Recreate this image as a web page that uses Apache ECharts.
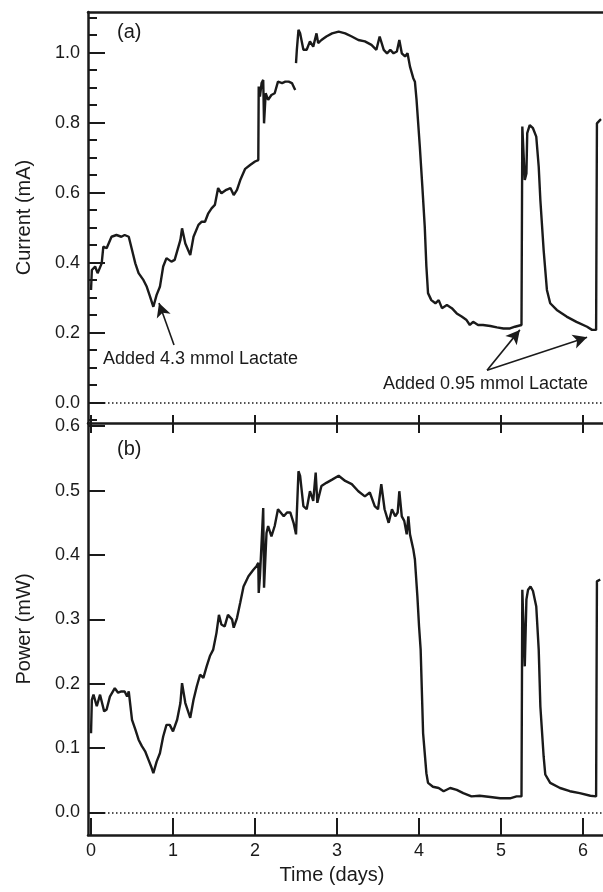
<!DOCTYPE html>
<html>
<head>
<meta charset="utf-8">
<script src="https://cdn.jsdelivr.net/npm/echarts@6/dist/echarts.min.js"></script>
<style>
html,body{margin:0;padding:0;background:#fff;}
#chart{width:603px;height:892px;}
</style>
</head>
<body>
<div id="chart"></div>
<script>
// (a) 电流
var daysA = [0.00,0.01,0.05,0.08,0.13,0.15,0.19,0.25,0.31,0.37,0.41,0.46,0.50,0.54,0.58,0.64,0.68,0.72,0.76,0.80,0.84,0.88,0.92,0.98,1.02,1.09,1.11,1.15,1.21,1.25,1.31,1.35,1.39,1.43,1.47,1.51,1.55,1.59,1.65,1.70,1.74,1.78,1.82,1.88,1.94,2.00,2.04,2.045,2.06,2.08,2.10,2.11,2.13,2.16,2.20,2.24,2.28,2.33,2.37,2.41,2.45,2.49,2.495,2.50,2.51,2.53,2.55,2.59,2.63,2.67,2.71,2.75,2.77,2.81,2.87,2.94,3.02,3.10,3.18,3.26,3.34,3.42,3.48,3.52,3.57,3.61,3.65,3.69,3.73,3.76,3.79,3.83,3.86,3.89,3.93,3.95,3.97,4.01,4.04,4.07,4.09,4.11,4.15,4.20,4.24,4.28,4.34,4.40,4.46,4.52,4.58,4.62,4.66,4.72,4.78,4.87,4.95,5.03,5.11,5.17,5.25,5.26,5.29,5.31,5.32,5.35,5.39,5.43,5.46,5.48,5.52,5.56,5.60,5.68,5.80,5.92,6.05,6.11,6.16,6.17,6.21,6.22];
var currentMA = [0.322,0.379,0.389,0.370,0.398,0.446,0.441,0.474,0.479,0.474,0.479,0.474,0.436,0.398,0.370,0.350,0.331,0.303,0.274,0.308,0.331,0.389,0.413,0.403,0.408,0.465,0.498,0.455,0.422,0.474,0.508,0.517,0.517,0.541,0.555,0.565,0.613,0.598,0.608,0.613,0.593,0.608,0.636,0.668,0.679,0.689,0.693,0.903,0.874,0.913,0.922,0.798,0.884,0.865,0.879,0.884,0.917,0.913,0.917,0.917,0.913,0.893,null,0.970,1.008,1.065,1.055,1.008,1.008,1.032,1.017,1.055,1.027,1.036,1.046,1.055,1.060,1.055,1.046,1.036,1.032,1.022,1.008,1.046,1.008,0.998,1.008,0.998,1.003,1.036,0.998,0.989,0.998,0.960,0.927,0.917,0.865,0.731,0.620,0.503,0.389,0.313,0.293,0.284,0.293,0.270,0.279,0.270,0.255,0.246,0.236,0.222,0.231,0.222,0.222,0.219,0.215,0.212,0.212,0.217,0.222,0.789,0.636,0.655,0.770,0.793,0.784,0.760,0.674,0.579,0.436,0.322,0.284,0.265,0.246,0.231,0.217,0.208,0.208,0.798,0.808,0.810];
// (b) 功率
var daysB = [0.00,0.01,0.03,0.07,0.11,0.13,0.16,0.19,0.23,0.29,0.33,0.37,0.41,0.44,0.46,0.50,0.54,0.58,0.62,0.66,0.70,0.74,0.76,0.80,0.84,0.88,0.92,0.96,1.00,1.05,1.09,1.11,1.15,1.21,1.25,1.29,1.33,1.37,1.41,1.45,1.49,1.53,1.56,1.59,1.63,1.67,1.72,1.74,1.78,1.82,1.86,1.92,1.98,2.02,2.04,2.045,2.06,2.08,2.10,2.11,2.14,2.16,2.20,2.24,2.28,2.35,2.39,2.43,2.47,2.50,2.53,2.55,2.59,2.63,2.67,2.71,2.74,2.76,2.81,2.87,2.94,3.02,3.10,3.18,3.26,3.34,3.40,3.46,3.50,3.54,3.58,3.63,3.67,3.71,3.74,3.76,3.79,3.82,3.85,3.87,3.89,3.93,3.95,3.98,4.00,4.02,4.05,4.09,4.11,4.17,4.24,4.30,4.38,4.46,4.54,4.64,4.74,4.87,4.99,5.11,5.19,5.25,5.26,5.29,5.31,5.33,5.36,5.39,5.43,5.46,5.48,5.52,5.54,5.60,5.72,5.84,5.96,6.09,6.16,6.17,6.21];
var powerMW = [0.123,0.175,0.183,0.165,0.183,0.186,0.157,0.160,0.180,0.193,0.186,0.188,0.188,0.180,0.188,0.144,0.129,0.113,0.103,0.095,0.082,0.069,0.061,0.079,0.092,0.118,0.136,0.136,0.126,0.144,0.170,0.201,0.170,0.147,0.175,0.196,0.214,0.209,0.227,0.243,0.253,0.279,0.307,0.292,0.289,0.307,0.300,0.287,0.302,0.326,0.351,0.367,0.377,0.383,0.388,0.341,0.367,0.419,0.473,0.349,0.434,0.445,0.429,0.445,0.471,0.460,0.466,0.466,0.450,0.432,0.530,0.523,0.476,0.471,0.499,0.484,0.528,0.481,0.507,0.512,0.517,0.523,0.515,0.510,0.499,0.491,0.497,0.476,0.471,0.510,0.471,0.450,0.471,0.460,0.466,0.499,0.460,0.453,0.432,0.460,0.432,0.409,0.393,0.336,0.290,0.253,0.123,0.061,0.046,0.040,0.038,0.033,0.038,0.035,0.030,0.025,0.026,0.024,0.022,0.022,0.025,0.025,0.346,0.227,0.331,0.346,0.351,0.344,0.320,0.253,0.165,0.087,0.059,0.046,0.038,0.033,0.030,0.026,0.025,0.359,0.362];

// 刻度
var xTicks = [0,1,2,3,4,5,6];
var yTicksA = [0,0.2,0.4,0.6,0.8,1.0];
var yMinorA = [-0.05,0.05,0.1,0.15,0.25,0.3,0.35,0.45,0.5,0.55,0.65,0.7,0.75,0.85,0.9,0.95,1.05,1.1];
var yTicksB = [0,0.1,0.2,0.3,0.4,0.5,0.6];

// 箭头 [起点, 终点]
var arrowsA = [
	[[1.012,0.165],[0.829,0.285]],
	[[4.83,0.093],[5.23,0.208]],
	[[4.83,0.093],[6.05,0.187]]
];

function pairs(xs, ys){
	var out = [];
	for(var i=0;i<xs.length;i++){ out.push([xs[i], ys[i]]); }
	return out;
}

var FONT = 'Liberation Sans';
var INK = '#1a1a1a';
var XMIN = -0.037, XMAX = 6.244;
var axisLineStyle = { onZero:false, lineStyle:{ color:INK, width:2.5 } };
var labelStyle = { fontFamily:FONT, fontSize:18, color:INK };
var zeroLine = { yAxis:0, lineStyle:{ color:INK, width:1.5, type:[1.5,2.5] } };

var myChart = echarts.init(document.getElementById('chart'));
var option = {
	backgroundColor:'#fff',
	animation:false,
	grid:[
		{ left:88, right:0, top:12, height:411 },
		{ left:88, right:0, top:423, height:412 }
	],
	xAxis:[
		{ gridIndex:0, type:'value', position:'bottom', min:XMIN, max:XMAX,
		  axisLine:axisLineStyle, splitLine:{show:false}, axisLabel:{show:false},
		  axisTick:{ inside:true, length:8, customValues:xTicks, lineStyle:{color:INK,width:2} } },
		{ gridIndex:0, type:'value', position:'top', min:XMIN, max:XMAX,
		  axisLine:axisLineStyle, splitLine:{show:false}, axisLabel:{show:false}, axisTick:{show:false} },
		{ gridIndex:1, type:'value', position:'top', min:XMIN, max:XMAX,
		  axisLine:{show:false, onZero:false}, splitLine:{show:false}, axisLabel:{show:false},
		  axisTick:{ inside:true, length:10, customValues:xTicks, lineStyle:{color:INK,width:2} } },
		{ gridIndex:1, type:'value', position:'bottom', min:XMIN, max:XMAX,
		  name:'Time (days)', nameLocation:'middle', nameGap:30,
		  nameTextStyle:{ fontFamily:FONT, fontSize:20, color:INK, padding:[0,27,0,0] },
		  axisLine:axisLineStyle, splitLine:{show:false},
		  axisTick:{ inside:true, length:17, customValues:xTicks, lineStyle:{color:INK,width:2} },
		  axisLabel:Object.assign({ margin:7, customValues:xTicks }, labelStyle) }
	],
	yAxis:[
		{ gridIndex:0, type:'value', position:'left', min:-0.058, max:1.116,
		  name:'Current (mA)', nameLocation:'middle', nameGap:54,
		  nameTextStyle:{ fontFamily:FONT, fontSize:20, color:INK },
		  axisLine:axisLineStyle, splitLine:{show:false},
		  axisTick:{ inside:true, length:17, customValues:yTicksA, lineStyle:{color:INK,width:2} },
		  axisLabel:Object.assign({ margin:8, customValues:yTicksA, formatter:function(v){return v.toFixed(1);} }, labelStyle) },
		{ gridIndex:0, type:'value', position:'left', offset:0, min:-0.058, max:1.116,
		  axisLine:{show:false, onZero:false}, splitLine:{show:false}, axisLabel:{show:false},
		  axisTick:{ inside:true, length:9, customValues:yMinorA, lineStyle:{color:INK,width:2} } },
		{ gridIndex:1, type:'value', position:'left', min:-0.035, max:0.605,
		  name:'Power (mW)', nameLocation:'middle', nameGap:54,
		  nameTextStyle:{ fontFamily:FONT, fontSize:20, color:INK },
		  axisLine:axisLineStyle, splitLine:{show:false},
		  axisTick:{ inside:true, length:17, customValues:yTicksB, lineStyle:{color:INK,width:2} },
		  axisLabel:Object.assign({ margin:8, customValues:yTicksB, formatter:function(v){return v.toFixed(1);} }, labelStyle) }
	],
	graphic:[
		{ type:'text', left:117, top:22, style:{ text:'(a)', font:'20px "Liberation Sans"', fill:INK } },
		{ type:'text', left:117, top:439, style:{ text:'(b)', font:'20px "Liberation Sans"', fill:INK } },
		{ type:'text', left:103, top:350, style:{ text:'Added 4.3 mmol Lactate', font:'18px "Liberation Sans"', fill:INK } },
		{ type:'text', left:383, top:375, style:{ text:'Added 0.95 mmol Lactate', font:'18px "Liberation Sans"', fill:INK } }
	],
	series:[
		{ type:'line', xAxisIndex:0, yAxisIndex:0, data:pairs(daysA,currentMA),
		  showSymbol:false, connectNulls:false, lineStyle:{color:INK,width:2.4}, silent:true,
		  markLine:{ silent:true, symbol:'none', label:{show:false},
		    lineStyle:{color:INK,width:1.6,type:'solid'},
		    data:[zeroLine].concat(arrowsA.map(function(a){
		    	return [{coord:a[0], symbol:'none'},{coord:a[1], symbol:'arrow', symbolSize:[11,14]}];
		    })) } },
		{ type:'line', xAxisIndex:3, yAxisIndex:2, data:pairs(daysB,powerMW),
		  showSymbol:false, lineStyle:{color:INK,width:2.4}, silent:true,
		  markLine:{ silent:true, symbol:'none', label:{show:false}, data:[zeroLine] } }
	]
};
myChart.setOption(option);
</script>
</body>
</html>
